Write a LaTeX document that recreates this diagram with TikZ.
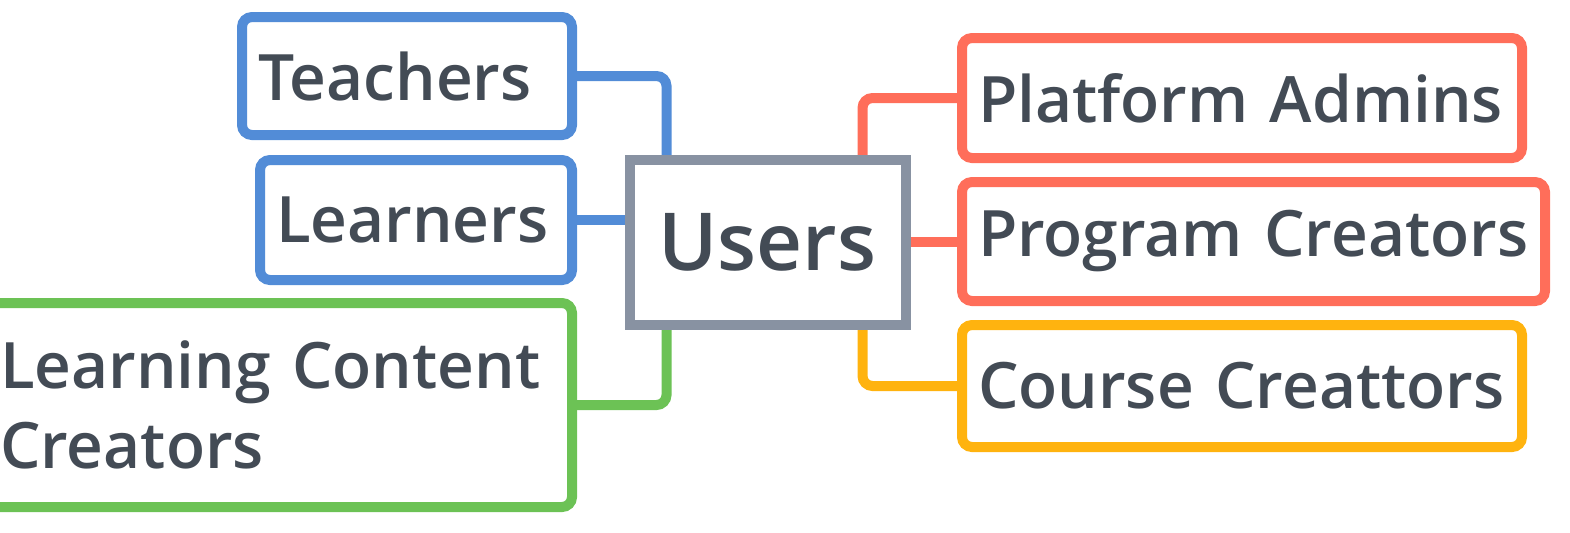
\documentclass[tikz,border=0pt]{standalone}
\usepackage{fontspec}
\IfFontExistsTF{Open Sans Semibold}{\setmainfont{Open Sans Semibold}}{%
   \IfFontExistsTF{Open Sans SemiBold}{\setmainfont{Open Sans SemiBold}}{\setmainfont{Open Sans}}}
\usetikzlibrary{backgrounds}
\definecolor{txt}{HTML}{434B55}
\definecolor{blu}{HTML}{528CD7}
\definecolor{grn}{HTML}{6CC255}
\definecolor{rd}{HTML}{FF6E5A}
\definecolor{ylw}{HTML}{FFB30F}
\definecolor{gry}{HTML}{8892A2}

\begin{document}
\begin{tikzpicture}[x=0.5pt,y=-0.5pt,
   leaf/.style={draw=#1,line width=5pt,rounded corners=5pt,fill=white,inner xsep=8pt,inner ysep=0pt,
      align=left,text=txt,font=\fontsize{32}{40}\selectfont},
   link/.style={draw=#1,line width=5pt,rounded corners=5pt}]
   \useasboundingbox (0,0) rectangle (1570,532);
   \node[draw=gry,line width=5pt,fill=white,minimum width=138pt,minimum height=82.5pt,text=txt,
      font=\fontsize{40}{48}\selectfont] (users) at (767.5,242.5) {Users};
   \node[leaf=blu,text width=149pt,minimum height=59pt] (teachers) at (407,76) {Teachers};
   \node[leaf=blu,text width=140pt,minimum height=60pt] (learners) at (416,220) {Learners};
   \node[leaf=grn,text width=278pt,minimum height=102pt] (creators) at (278,405) {Learning Content\\Creators};
   \node[leaf=rd,text width=264pt,minimum height=60pt] (admins) at (1242,98) {Platform Admins};
   \node[leaf=rd,text width=275.5pt,minimum height=59.5pt] (program) at (1253.5,241.5) {Program Creators};
   \node[leaf=ylw,text width=264pt,minimum height=61pt] (course) at (1242,386) {Course Creattors};
   \begin{pgfonlayer}{background}
      \draw[link=blu] (teachers.east) -| ([xshift=21pt]users.north west);
      \draw[link=blu] (learners.east) -- (learners.east -| users.west);
      \draw[link=grn] (creators.east) -| ([xshift=21pt]users.south west);
      \draw[link=rd] (admins.west) -| ([xshift=-24pt]users.north east);
      \draw[link=rd] (program.west) -- (program.west -| users.east);
      \draw[link=ylw] (course.west) -| ([xshift=-24pt]users.south east);
   \end{pgfonlayer}
\end{tikzpicture}
\end{document}
